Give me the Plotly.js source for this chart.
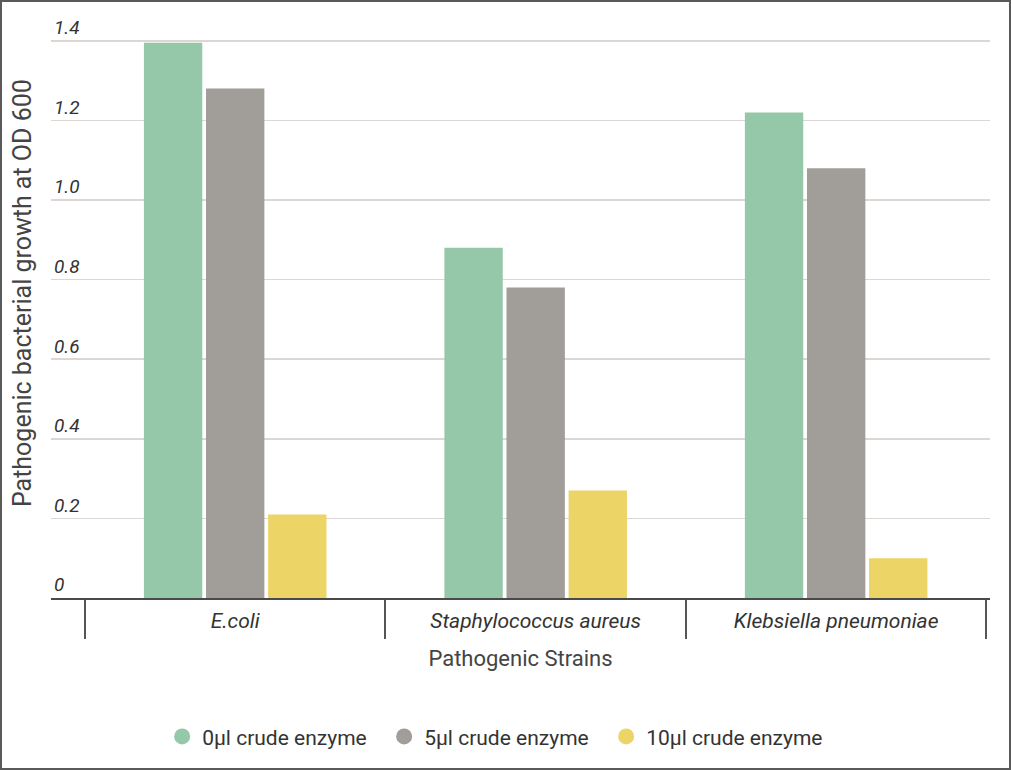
<!DOCTYPE html>
<html>
<head>
<meta charset="utf-8">
<script src="https://cdn.plot.ly/plotly-3.0.1.min.js"></script>
<style>
  html, body { margin: 0; padding: 0; background: #fff; }
  #wrap { width: 1011px; height: 770px; box-sizing: border-box; border: 2px solid #5a5a5a; }
  #chart { width: 1007px; height: 766px; }
</style>
</head>
<body>
<div id="wrap"><div id="chart"></div></div>
<script>
const strains = ["E.coli", "Staphylococcus aureus", "Klebsiella pneumoniae"];
const seriesNames = ["0μl crude enzyme", "5μl crude enzyme", "10μl crude enzyme"];
const od0 = [1.395, 0.88, 1.22];
const od5 = [1.28, 0.78, 1.08];
const od10 = [0.21, 0.27, 0.10];
const yTickVals = [0, 0.2, 0.4, 0.6, 0.8, 1.0, 1.2, 1.4];
const yTickText = ["0", "0.2", "0.4", "0.6", "0.8", "1.0", "1.2", "1.4"];
const colors = ["#95C8A8", "#A19D99", "#EDD467"];

const seriesVals = [od0, od5, od10];
const data = [];
seriesVals.forEach((vals, i) => {
  data.push({
    type: "bar", x: strains, y: vals, name: seriesNames[i],
    marker: { color: colors[i] }, showlegend: false, hoverinfo: "x+y"
  });
});
seriesVals.forEach((vals, i) => {
  data.push({
    type: "scatter", mode: "markers", x: [null], y: [null], name: seriesNames[i],
    marker: { color: colors[i], size: 22, symbol: "circle" }, showlegend: true
  });
});

const font = "Roboto, 'Open Sans', sans-serif";
const layout = {
  width: 1007, height: 766,
  margin: { l: 49, r: 19, t: 3, b: 170, autoexpand: false },
  paper_bgcolor: "#fff", plot_bgcolor: "#fff",
  font: { family: font, color: "#333" },
  barmode: "group", bargap: 0.38, bargroupgap: 0.06,
  xaxis: {
    type: "category", range: [-0.613, 2.512], automargin: false,
    showline: true, linecolor: "#4a4a4a", linewidth: 2,
    showgrid: false, zeroline: false,
    ticks: "outside", tickson: "boundaries", ticklen: 39, tickwidth: 2, tickcolor: "#555",
    ticklabelstandoff: 3,
    tickfont: { family: font, size: 21, color: "#333", style: "italic" },
    title: { text: "Pathogenic Strains", font: { family: font, size: 22, color: "#444" }, standoff: 18 }
  },
  yaxis: {
    range: [0, 1.49], tickvals: yTickVals, ticktext: yTickText, automargin: false,
    ticklabelposition: "inside top",
    tickfont: { family: font, size: 19, color: "#333", style: "italic" },
    showgrid: true, gridcolor: "#DCD7D2", gridwidth: 1.5,
    zeroline: false, showline: false, ticks: ""
  },
  legend: {
    orientation: "h", x: 0.473, xanchor: "center", y: -0.234, yanchor: "middle",
    font: { family: font, size: 21, color: "#333" },
    entrywidth: 177, entrywidthmode: "pixels", itemsizing: "trace"
  },
  annotations: [{
    text: "Pathogenic bacterial growth at OD 600",
    xref: "paper", yref: "paper", x: -0.031, y: 0.514,
    xanchor: "center", yanchor: "middle", textangle: -90, showarrow: false,
    font: { family: font, size: 25, color: "#444" }
  }]
};

Plotly.newPlot("chart", data, layout, { displayModeBar: false, staticPlot: true });
</script>
</body>
</html>
